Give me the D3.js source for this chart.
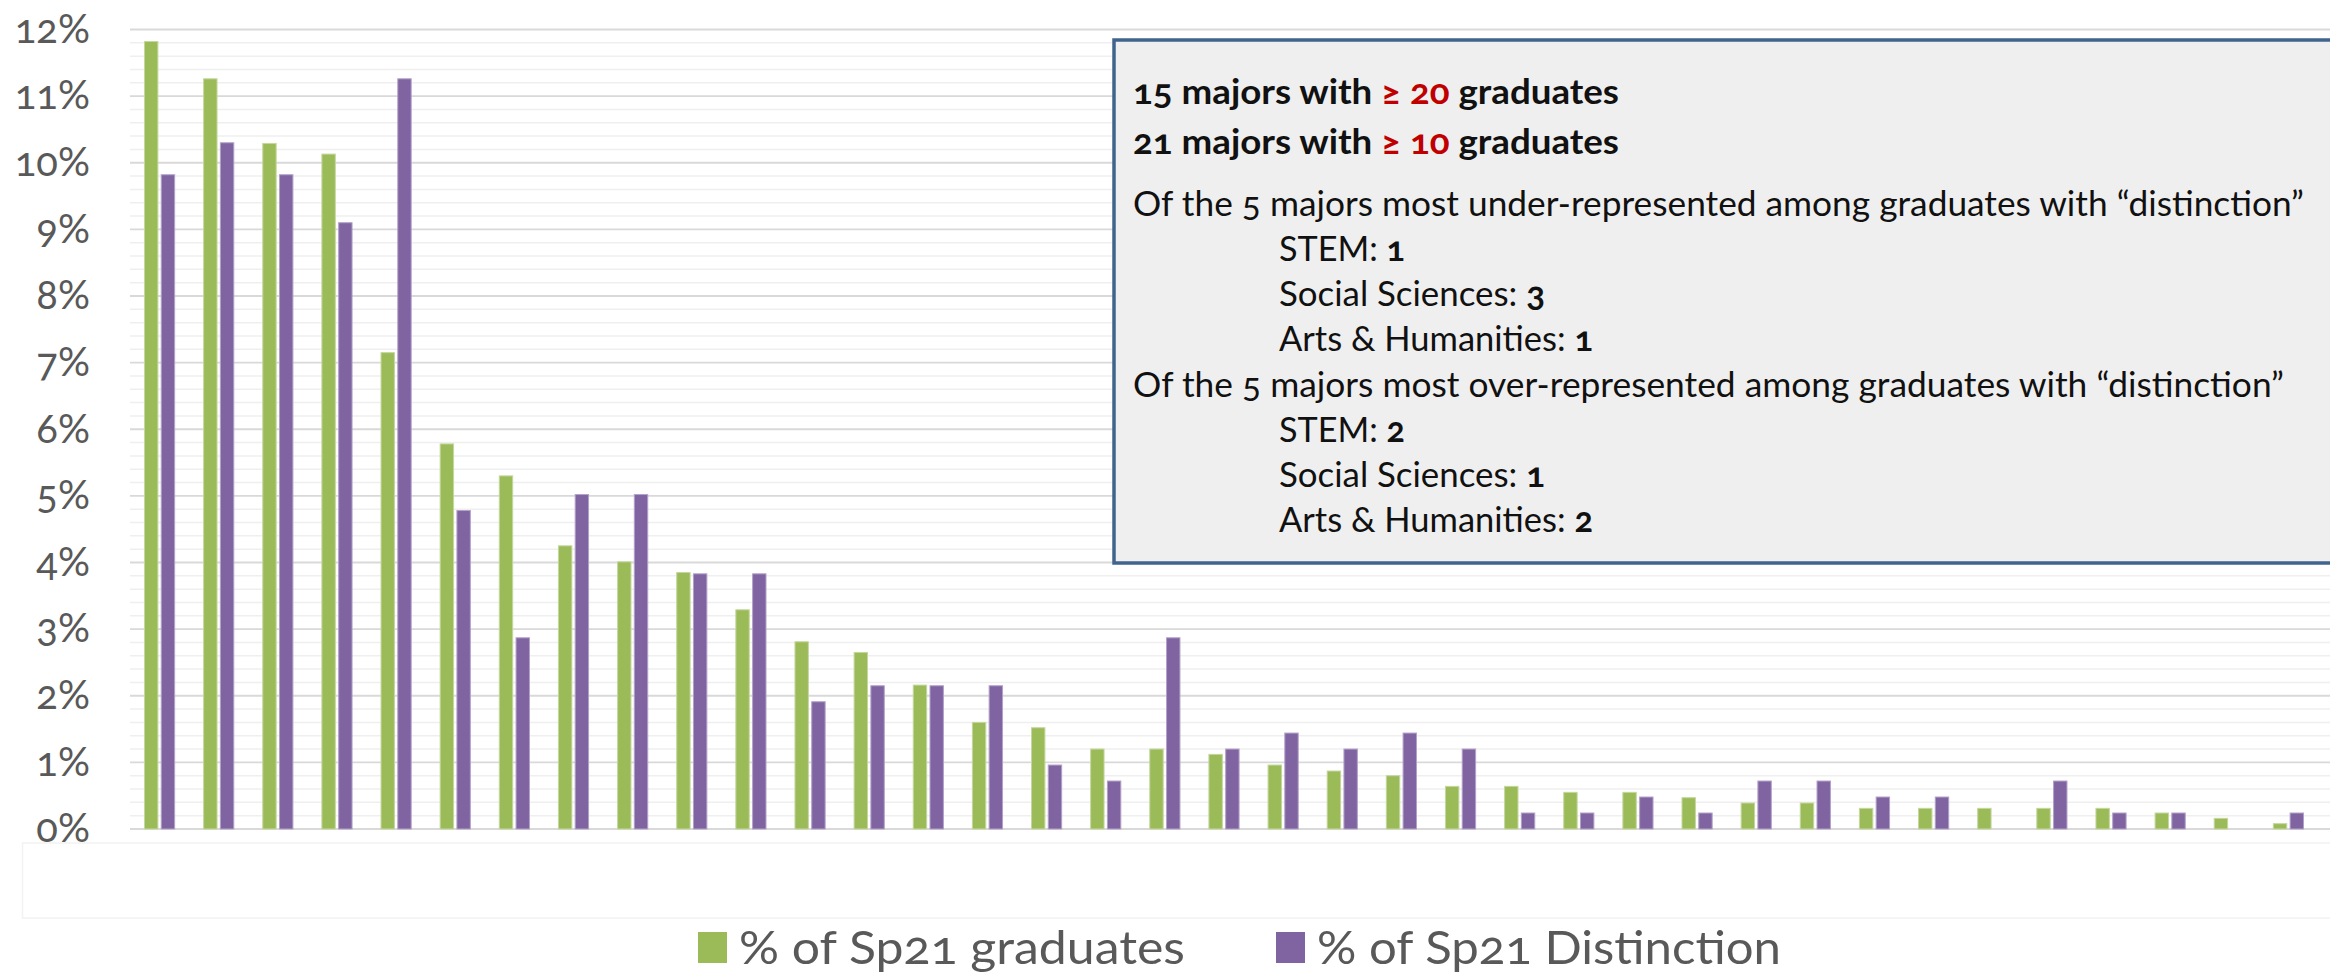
<!DOCTYPE html>
<html>
<head>
<meta charset="utf-8">
<script src="https://cdn.jsdelivr.net/npm/d3@7"></script>
<style>
  html, body { margin: 0; padding: 0; background: #fff; }
  svg text { font-family: Lato, "Open Sans", sans-serif; font-variant-numeric: oldstyle-nums; }
</style>
</head>
<body>
<svg id="chart" width="2330" height="975"></svg>
<script>
// majors (names are hidden under the label box in the original)
var categories = ["M01", "M02", "M03", "M04", "M05", "M06", "M07", "M08", "M09", "M10",
  "M11", "M12", "M13", "M14", "M15", "M16", "M17", "M18", "M19", "M20",
  "M21", "M22", "M23", "M24", "M25", "M26", "M27", "M28", "M29", "M30",
  "M31", "M32", "M33", "M34", "M35", "M36", "M37"];

// % of Sp21 graduates
var gradPct = [11.82, 11.26, 10.29, 10.13, 7.15, 5.78, 5.30, 4.25, 4.01, 3.85,
  3.29, 2.81, 2.65, 2.16, 1.60, 1.52, 1.20, 1.20, 1.12, 0.96,
  0.87, 0.80, 0.64, 0.64, 0.55, 0.55, 0.47, 0.39, 0.39, 0.31,
  0.31, 0.31, 0.31, 0.31, 0.24, 0.16, 0.08];

// % of Sp21 Distinction
var distPct = [9.82, 10.30, 9.82, 9.10, 11.26, 4.78, 2.87, 5.02, 5.02, 3.83,
  3.83, 1.91, 2.15, 2.15, 2.15, 0.96, 0.72, 2.87, 1.20, 1.44,
  1.20, 1.44, 1.20, 0.24, 0.24, 0.48, 0.24, 0.72, 0.72, 0.48,
  0.48, 0, 0.72, 0.24, 0.24, 0, 0.24];

var seriesNames = ["% of Sp21 graduates", "% of Sp21 Distinction"];
var yTicks = [0, 1, 2, 3, 4, 5, 6, 7, 8, 9, 10, 11, 12];

// text in the grey note box
var countLines = [
  ["15 majors with ", "≥ 20", " graduates"],
  ["21 majors with ", "≥ 10", " graduates"]
];
var underHeading = "Of the 5 majors most under-represented among graduates with “distinction”";
var overHeading = "Of the 5 majors most over-represented among graduates with “distinction”";
var fields = ["STEM: ", "Social Sciences: ", "Arts & Humanities: "];
var underCounts = ["1", "3", "1"];
var overCounts = ["2", "1", "2"];

var colors = ["#9bbb59", "#8064a2"];
var edge = ["#c4d79e", "#b2a1c7"];

var svg = d3.select("#chart");

var x0 = d3.scaleBand().domain(categories).range([130, 2318]).padding(0);
var x1 = d3.scaleBand().domain([0, 1])
  .range([x0.bandwidth() * 0.245, x0.bandwidth() * 0.755])
  .paddingInner(0.2);
var y = d3.scaleLinear().domain([0, 12]).range([829, 29.5]);

// minor gridlines every 0.2%
var minor = d3.range(0, 60).map(function (i) { return i / 5; })
  .filter(function (v) { return Math.abs(v - Math.round(v)) > 0.01; });
svg.append("g").selectAll("line").data(minor).enter().append("line")
  .attr("x1", 130).attr("x2", 2330)
  .attr("y1", function (d) { return y(d); }).attr("y2", function (d) { return y(d); })
  .attr("stroke", "#efefef").attr("stroke-width", 1.5);

// major gridlines
svg.append("g").selectAll("line").data(yTicks).enter().append("line")
  .attr("x1", 130).attr("x2", 2330)
  .attr("y1", function (d) { return y(d); }).attr("y2", function (d) { return y(d); })
  .attr("stroke", "#d9d9d9").attr("stroke-width", 1.8);

// y axis labels
var yAxis = d3.axisLeft(y).tickValues(yTicks).tickSize(0).tickPadding(0)
  .tickFormat(function (d) { return d + "%"; });
var gy = svg.append("g").attr("transform", "translate(90,0)").call(yAxis);
gy.select(".domain").remove();
gy.selectAll("text")
  .attr("font-size", 40).attr("fill", "#595959")
  .style("font-family", "Lato, 'Open Sans', sans-serif");

// bars
var groups = svg.append("g").selectAll("g").data(categories).enter().append("g")
  .attr("transform", function (d) { return "translate(" + x0(d) + ",0)"; });
groups.selectAll("rect")
  .data(function (d, i) { return [gradPct[i], distPct[i]]; })
  .enter().append("rect")
  .filter(function (v) { return v > 0; })
  .attr("x", function (v, j) { return x1(j); })
  .attr("width", x1.bandwidth())
  .attr("y", function (v) { return y(v); })
  .attr("height", function (v) { return y(0) - y(v); })
  .attr("fill", function (v, j) { return colors[j]; })
  .attr("stroke", function (v, j) { return edge[j]; })
  .attr("stroke-width", 1);

// white box hiding the category labels
svg.append("rect")
  .attr("x", 22.5).attr("y", 843).attr("width", 2330).attr("height", 75)
  .attr("fill", "#fff").attr("stroke", "#f2f2f2").attr("stroke-width", 1.5);

// legend
var legendX = [698, 1276];
var legendW = [446, 464];
var lg = svg.append("g").selectAll("g").data(seriesNames).enter().append("g");
lg.append("rect")
  .attr("x", function (d, i) { return legendX[i]; })
  .attr("y", 932).attr("width", 29).attr("height", 31)
  .attr("fill", function (d, i) { return colors[i]; });
lg.append("text")
  .attr("x", function (d, i) { return legendX[i] + 41; })
  .attr("y", 964)
  .attr("font-size", 47).attr("fill", "#595959")
  .attr("textLength", function (d, i) { return legendW[i]; })
  .attr("lengthAdjust", "spacingAndGlyphs")
  .text(function (d) { return d; });

// note box
svg.append("rect")
  .attr("x", 1114).attr("y", 40).attr("width", 1240).attr("height", 523)
  .attr("fill", "#efefef").attr("stroke", "#41648f").attr("stroke-width", 3.5);

var note = svg.append("g");
countLines.forEach(function (parts, i) {
  var t = note.append("text")
    .attr("x", 1133).attr("y", 104 + i * 50)
    .attr("font-size", 34).attr("font-weight", "bold").attr("fill", "#111")
    .attr("textLength", 486).attr("lengthAdjust", "spacingAndGlyphs");
  t.append("tspan").text(parts[0]);
  t.append("tspan").attr("fill", "#c00000").text(parts[1]);
  t.append("tspan").text(parts[2]);
});

function block(heading, counts, baseY, headLen) {
  note.append("text")
    .attr("x", 1133).attr("y", baseY)
    .attr("font-size", 35).attr("fill", "#111")
    .attr("textLength", headLen).attr("lengthAdjust", "spacingAndGlyphs")
    .text(heading);
  var listLen = [126, 266, 314];
  fields.forEach(function (f, i) {
    var t = note.append("text")
      .attr("x", 1279).attr("y", baseY + 45 * (i + 1))
      .attr("font-size", 35).attr("fill", "#111")
      .attr("textLength", listLen[i]).attr("lengthAdjust", "spacingAndGlyphs");
    t.append("tspan").text(f);
    t.append("tspan").attr("font-weight", "bold").text(counts[i]);
  });
}
block(underHeading, underCounts, 216, 1171);
block(overHeading, overCounts, 396.7, 1151);
</script>
</body>
</html>
